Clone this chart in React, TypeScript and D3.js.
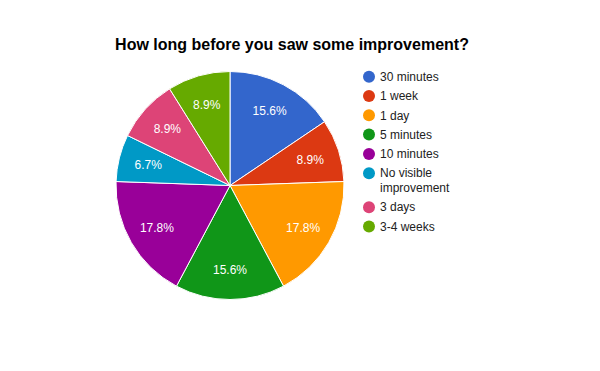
import React from "react";
import * as d3 from "d3";

const categories = ["30 minutes", "1 week", "1 day", "5 minutes", "10 minutes", "No visible improvement", "3 days", "3-4 weeks"];
const counts = [7, 4, 8, 7, 8, 3, 4, 4];
const colors = ["#3366cc", "#dc3912", "#ff9900", "#109618", "#990099", "#0099c6", "#dd4477", "#66aa00"];
const legendLines = [["30 minutes"], ["1 week"], ["1 day"], ["5 minutes"], ["10 minutes"], ["No visible", "improvement"], ["3 days"], ["3-4 weeks"]];
const title = "How long before you saw some improvement?";

export default function App() {
  const W = 600, H = 371;
  const cx = 230, cy = 185.5, R = 114;
  const total = d3.sum(counts);
  const pie = d3.pie<number>().sort(null).value((d) => d);
  const arcs = pie(counts);
  const arc = d3.arc<d3.PieArcDatum<number>>().innerRadius(0).outerRadius(R);
  const labelArc = d3.arc<d3.PieArcDatum<number>>().innerRadius(R * 0.74).outerRadius(R * 0.74);
  const font = "Arial, 'Liberation Sans', sans-serif";

  let ly = 76.7;
  const legendItems = legendLines.map((lines, i) => {
    const y = ly;
    ly += lines.length * 14.7 + 4.6;
    return { lines, y, i };
  });

  return (
    <svg width={W} height={H} style={{ position: "absolute", left: 0, top: 0, background: "#fff" }} fontFamily={font}>
      <rect width={W} height={H} fill="#fff" />
      <text x={292} y={50} textAnchor="middle" fontSize={16} fontWeight="bold" fill="#000">{title}</text>
      <g transform={`translate(${cx},${cy})`}>
        {arcs.map((a, i) => (
          <path key={i} d={arc(a) || ""} fill={colors[i]} stroke="#fff" strokeWidth={1} />
        ))}
        {arcs.map((a, i) => {
          const [x, y] = labelArc.centroid(a);
          return (
            <text key={"l" + i} x={x} y={y} dy="0.35em" textAnchor="middle" fontSize={12} fill="#fff">
              {((a.data / total) * 100).toFixed(1)}%
            </text>
          );
        })}
      </g>
      {legendItems.map(({ lines, y, i }) => (
        <g key={"g" + i}>
          <circle cx={369} cy={y} r={6} fill={colors[i]} />
          {lines.map((t, k) => (
            <text key={k} x={380} y={y + k * 14.7} dy="0.35em" fontSize={12} fill="#222">{t}</text>
          ))}
        </g>
      ))}
    </svg>
  );
}
